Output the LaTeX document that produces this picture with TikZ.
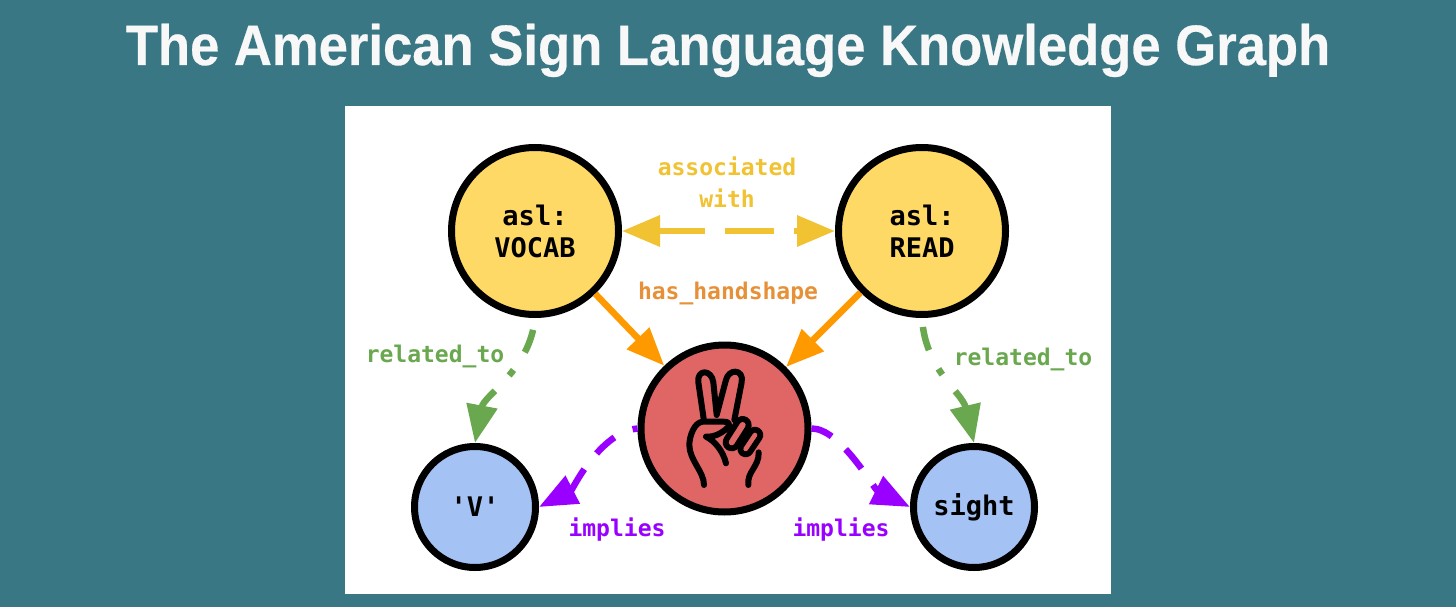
\documentclass[tikz,border=0pt]{standalone}
\usepackage{fontspec}
\setmainfont{Liberation Sans}
\newfontfamily\titlef[BoldFeatures={FakeBold=0.5}]{Liberation Sans}
\newfontfamily\monof{DejaVu Sans Mono}
\usetikzlibrary{arrows.meta}
\definecolor{teal0}{HTML}{3A7785}
\definecolor{ygold}{HTML}{F1C232}
\definecolor{yfill}{HTML}{FFD966}
\definecolor{rfill}{HTML}{E06666}
\definecolor{bfill}{HTML}{A4C2F4}
\definecolor{orng}{HTML}{FF9900}
\definecolor{orlabel}{HTML}{E69138}
\definecolor{grn}{HTML}{6AA84F}
\definecolor{purp}{HTML}{9900FF}
\definecolor{offwhite}{HTML}{F8F8F8}
\tikzset{
  x=1pt,y=-1pt,
  bignode/.style={circle,draw=black,line width=7pt,minimum size=167pt,inner sep=0pt,align=center,
    font=\monof\fontsize{27}{32}\selectfont\bfseries},
  smallnode/.style={circle,draw=black,line width=7pt,minimum size=121pt,inner sep=0pt,fill=bfill,align=center,
    font=\monof\fontsize{27}{32}\selectfont\bfseries},
  edgelabel/.style={inner sep=0pt,align=center,font=\monof\fontsize{23}{32}\selectfont\bfseries},
  link/.style={line width=6.5pt,-{Triangle[length=38pt,width=30pt]}},
}
\begin{document}
\begin{tikzpicture}
\useasboundingbox (0,0) rectangle (1456,607);
\fill[teal0] (0,0) rectangle (1456,607);
\node[inner sep=0pt,text=offwhite,anchor=base,xscale=0.923,transform shape] (title) at (728,65) {\fontsize{57}{60}\selectfont\titlef\bfseries The American Sign Language Knowledge Graph};
\fill[white] (345,106) rectangle (1111,594);

\node[bignode,fill=yfill] (vocab) at (535,231) {asl:\\VOCAB};
\node[bignode,fill=yfill] (read) at (922,231) {asl:\\READ};
\node[bignode,fill=rfill] (hand) at (724.5,428.5) {};
\node[smallnode] (v) at (475,507) {\raisebox{-1pt}{'V'}};
\node[smallnode] (sight) at (974,507) {\raisebox{-1pt}{sight}};

% connectors
\draw[line width=6.5pt,ygold,{Triangle[length=38pt,width=30pt]}-{Triangle[length=38pt,width=30pt]},dash pattern=on 47pt off 20pt on 49pt off 20pt on 20pt] (vocab) -- (read);
\draw[link,orng] (vocab) -- (hand);
\draw[link,orng] (read) -- (hand);
\draw[link,grn,dash pattern=on 0pt off 12pt on 24pt off 21pt on 7pt off 21pt on 40pt]
  (vocab.south) .. controls (530,370) and (484,395) .. (v.north);
\draw[link,grn,dash pattern=on 0pt off 9pt on 24pt off 21pt on 7pt off 21pt on 40pt]
  (read.south) .. controls (925,370) and (962,392) .. (sight.north);
\draw[link,purp,dash pattern=on 5pt off 20pt on 24pt off 20pt on 40pt]
  (hand.west) .. controls (600,432) and (572,490) .. (v.east);
\draw[link,purp,dash pattern=on 22pt off 19pt on 25pt off 20pt on 8pt]
  (hand.east) .. controls (840,428) and (874,489) .. (sight.west);

% labels
\node[edgelabel,text=ygold] (assoc) at (727,182) {associated\\with};
\node[edgelabel,text=orlabel] (hs) at (728,293) {has\_handshape};
\node[edgelabel,text=grn] (rel1) at (435,356) {related\_to};
\node[edgelabel,text=grn] (rel2) at (1023,359) {related\_to};
\node[edgelabel,text=purp] (imp1) at (617,530) {implies};
\node[edgelabel,text=purp] (imp2) at (841,530) {implies};

% hand icon
\begin{scope}[shift={(680,365)},x=0.3333pt,y=-0.3333pt,line cap=round,line join=round]
 \draw[black,line width=16.5pt] (225,210) -- (197,252);
 \draw[rfill,line width=4.6pt] (225,210) -- (197,252);
 \draw[black,line width=18pt] (188,180) -- (155,232);
 \draw[rfill,line width=6pt] (188,180) -- (155,232);
 \draw[black,line width=6pt]
  (72,360) .. controls (72,320) and (28,285) .. (28,240)
  .. controls (28,215) and (42,172) .. (68,170)
  -- (130,170) .. controls (155,170) and (150,185) .. (135,195)
  .. controls (120,206) and (105,216) .. (78,215)
  .. controls (105,228) and (130,260) .. (138,295);
 \draw[black,line width=6pt]
  (72,168) -- (55,52) .. controls (50,12) and (95,12) .. (100,52) -- (110,150)
  -- (137,48) .. controls (145,8) and (193,12) .. (185,52) -- (163,165);
 \draw[black,line width=6pt]
  (205,360) .. controls (200,320) and (238,305) .. (236,262);
\end{scope}
\end{tikzpicture}
\end{document}
